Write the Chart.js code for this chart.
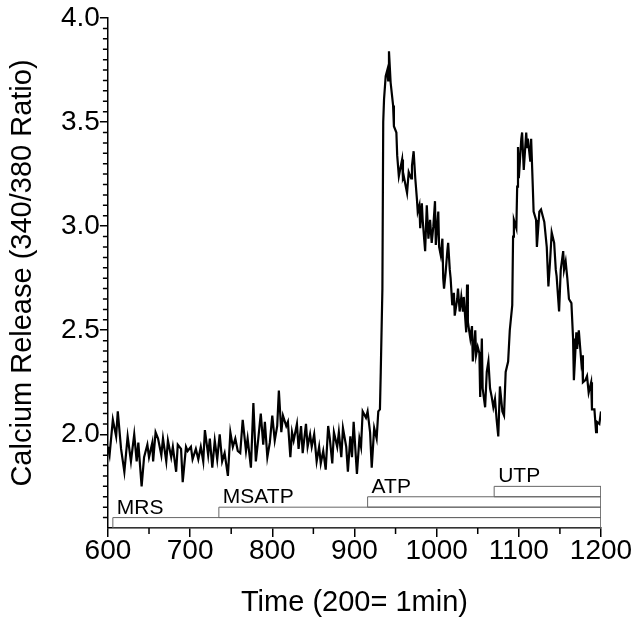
<!DOCTYPE html>
<html>
<head>
<meta charset="utf-8">
<script src="https://cdn.jsdelivr.net/npm/chart.js@4.4.0/dist/chart.umd.min.js"></script>
<style>
html, body { margin: 0; padding: 0; background: #fff; }
#wrap { width: 640px; height: 623px; }
</style>
</head>
<body>
<div id="wrap"><canvas id="calciumGraph"></canvas></div>
<script>
// trace (time units, 340/380 ratio)
const traceTime = [
    600, 602, 606, 610, 612, 616, 620, 624, 628, 632, 635, 637, 641, 644, 648, 650, 654, 655, 658, 661,
    665, 667, 671, 673, 677, 679, 683, 685, 689, 691, 695, 697, 701, 703, 707, 710, 713, 716, 718, 722,
    724, 727, 730, 733, 736, 739, 742, 746, 749, 752, 755, 758, 761, 764, 768, 770, 774, 777, 780, 783,
    786, 789, 791, 794, 797, 800, 803, 806, 808, 811, 813, 817, 819, 822, 824, 826, 830, 832, 835, 837,
    841, 843, 846, 848, 851, 854, 857, 859, 862, 865, 868, 870, 873, 875, 879, 881, 884, 886, 890, 892,
    895, 897, 899, 903, 906, 908, 910, 914, 916, 919, 921, 924, 927, 929, 931, 932, 934, 935, 936, 938,
    940, 941, 942, 944, 947, 948, 951, 952, 954, 955, 958, 959, 960, 963, 964, 966, 969, 970, 972, 974,
    976, 977, 979, 980, 982, 983, 986, 988, 990, 992, 994, 996, 998, 999, 1002, 1003, 1005, 1007, 1008, 1009,
    1011, 1013, 1014, 1016, 1017, 1019, 1021, 1022, 1025, 1026, 1028, 1030, 1032, 1033, 1036, 1037, 1038, 1041, 1043, 1044,
    1047, 1048, 1050, 1052, 1053, 1055, 1056, 1059, 1061, 1063, 1065, 1067, 1069, 1071, 1073, 1075, 1077, 1080, 1082, 1084,
    1087, 1089, 1092, 1093, 1094, 1097, 1098, 1099, 1100, 1103, 1104, 1106, 1109, 1110, 1111, 1114, 1115, 1117, 1118, 1121,
    1122, 1125, 1127, 1129, 1131, 1134, 1136, 1138, 1140, 1143, 1145, 1146, 1149, 1151, 1154, 1155, 1157, 1159, 1161, 1164,
    1166, 1167, 1170, 1171, 1173, 1176, 1177, 1178, 1181, 1183, 1185, 1188, 1189, 1192, 1194, 1195, 1198, 1200
];
const traceRatio = [
    1.94, 1.90, 2.07, 1.99, 2.11, 1.93, 1.82, 1.99, 1.87, 2.00, 1.87, 1.96, 1.75, 1.89, 1.95, 1.89, 1.96, 1.87, 2.01, 1.98,
    1.90, 1.98, 1.87, 1.97, 1.89, 1.94, 1.82, 1.95, 1.93, 1.77, 1.94, 1.92, 1.94, 1.88, 1.93, 1.88, 1.94, 1.87, 2.02, 1.90,
    1.98, 1.84, 1.97, 1.88, 2.00, 1.87, 1.91, 1.80, 2.01, 1.94, 1.98, 1.92, 1.91, 2.07, 1.92, 1.98, 1.84, 2.15, 1.87, 1.98,
    2.10, 1.95, 2.06, 1.89, 1.96, 2.09, 1.97, 2.04, 2.21, 2.01, 2.09, 2.04, 2.06, 1.89, 2.01, 1.97, 2.05, 1.93, 2.04, 1.91,
    2.05, 1.94, 2.00, 1.94, 2.00, 1.87, 1.94, 1.86, 1.92, 1.83, 2.04, 1.98, 1.86, 2.01, 1.94, 2.01, 1.89, 2.03, 1.94, 1.82,
    1.99, 1.89, 2.06, 1.81, 1.98, 1.94, 2.11, 2.08, 2.11, 2.01, 1.84, 2.03, 1.98, 2.11, 2.12, 2.30, 2.70, 3.50, 3.61, 3.72,
    3.75, 3.70, 3.84, 3.69, 3.58, 3.48, 3.45, 3.34, 3.24, 3.26, 3.32, 3.23, 3.24, 3.18, 3.16, 3.26, 3.23, 3.29, 3.36, 3.23,
    3.13, 3.07, 3.10, 2.99, 3.11, 3.03, 2.88, 3.10, 2.94, 3.03, 2.92, 3.00, 3.12, 2.91, 3.07, 2.90, 2.86, 2.94, 2.75, 2.70,
    2.78, 2.88, 2.92, 2.79, 2.75, 2.62, 2.68, 2.57, 2.65, 2.70, 2.59, 2.66, 2.59, 2.66, 2.49, 2.72, 2.54, 2.46, 2.52, 2.35,
    2.50, 2.38, 2.42, 2.39, 2.18, 2.46, 2.22, 2.13, 2.30, 2.35, 2.22, 2.18, 2.13, 2.17, 2.07, 1.99, 2.23, 2.11, 2.09, 2.30,
    2.35, 2.50, 2.62, 2.95, 3.03, 2.99, 3.19, 3.38, 3.23, 3.42, 3.45, 3.27, 3.45, 3.38, 3.42, 3.31, 3.42, 3.19, 3.07, 3.03,
    2.90, 3.07, 3.08, 3.05, 3.02, 2.90, 2.71, 2.83, 2.97, 2.92, 2.79, 2.76, 2.59, 2.79, 2.88, 2.79, 2.83, 2.75, 2.65, 2.63,
    2.46, 2.26, 2.49, 2.41, 2.50, 2.35, 2.38, 2.25, 2.26, 2.28, 2.20, 2.25, 2.12, 2.12, 2.01, 2.06, 2.05, 2.11
];

// drug application bars
const drugNames = ['MRS', 'MSATP', 'ATP', 'UTP'];
const drugStart = [606, 735, 916, 1070];
const drugLevel = [1.60, 1.65, 1.70, 1.75];
const drugEnd = 1200;

const xTicks = [600, 700, 800, 900, 1000, 1100, 1200];
const yTicks = [2.0, 2.5, 3.0, 3.5, 4.0];
const yMin = 1.55;
const yMax = 4.0;

const fontFamily = '"Liberation Sans", Arial, sans-serif';

document.addEventListener('DOMContentLoaded', () => {
    const datasets = [];

    // one closed box per drug, from its level down to the box below it
    drugNames.forEach((name, i) => {
        const lo = i === 0 ? yMin : drugLevel[i - 1];
        const hi = drugLevel[i];
        datasets.push({
            label: name,
            data: [
                { x: drugStart[i], y: lo },
                { x: drugStart[i], y: hi },
                { x: drugEnd, y: hi },
                { x: drugEnd, y: lo },
                { x: drugStart[i], y: lo }
            ],
            borderColor: '#666',
            borderWidth: 1,
            pointRadius: 0,
            fill: false,
            tension: 0
        });
    });

    datasets.push({
        label: 'Ratio',
        data: traceTime.map((t, i) => ({ x: t, y: traceRatio[i] })),
        borderColor: '#000',
        borderWidth: 2.2,
        pointRadius: 0,
        fill: false,
        tension: 0
    });

    // small ticks between the labelled ones
    const minorTicks = {
        id: 'minorTicks',
        afterDatasetsDraw(chart) {
            const area = chart.chartArea;
            const x = chart.scales.x;
            const y = chart.scales.y;
            const c = chart.ctx;
            c.save();
            c.strokeStyle = '#000';
            c.lineWidth = 1.5;
            c.beginPath();
            for (let k = 32; k < 80; k++) {
                if (k % 10 === 0) continue;
                const py = y.getPixelForValue(k * 0.05);
                c.moveTo(area.left - 5, py);
                c.lineTo(area.left, py);
            }
            for (let v = 650; v < 1200; v += 100) {
                const px = x.getPixelForValue(v);
                c.moveTo(px, area.bottom);
                c.lineTo(px, area.bottom + 6);
            }
            c.stroke();
            c.restore();
        }
    };

    const drugLabels = {
        id: 'drugLabels',
        afterDatasetsDraw(chart) {
            const { ctx, scales: { x, y } } = chart;
            ctx.save();
            ctx.fillStyle = '#000';
            ctx.font = '21px ' + fontFamily;
            ctx.textBaseline = 'alphabetic';
            drugNames.forEach((name, i) => {
                ctx.fillText(name, x.getPixelForValue(drugStart[i]) + 4, y.getPixelForValue(drugLevel[i]) - 4);
            });
            ctx.restore();
        }
    };

    const ctx = document.getElementById('calciumGraph').getContext('2d');
    new Chart(ctx, {
        type: 'line',
        data: { datasets: datasets },
        options: {
            responsive: true,
            maintainAspectRatio: false,
            animation: false,
            layout: { padding: { left: 0, right: 39, top: 18, bottom: 0 } },
            plugins: {
                legend: { display: false },
                tooltip: { enabled: false }
            },
            scales: {
                x: {
                    type: 'linear',
                    min: 600,
                    max: 1200,
                    afterBuildTicks: (scale) => { scale.ticks = xTicks.map(v => ({ value: v })); },
                    grid: { display: true, drawOnChartArea: false, drawTicks: true, tickLength: 9, color: '#000', lineWidth: 1.5 },
                    border: { display: true, color: '#000', width: 1.5 },
                    ticks: {
                        color: '#000',
                        padding: 0,
                        autoSkip: false,
                        maxRotation: 0,
                        callback: (v) => String(v),
                        font: { family: fontFamily, size: 28, lineHeight: 1 }
                    },
                    title: {
                        display: true,
                        text: 'Time (200= 1min)',
                        color: '#000',
                        font: { family: fontFamily, size: 29, lineHeight: 1 },
                        padding: { top: 23, bottom: 6 }
                    }
                },
                y: {
                    min: yMin,
                    max: yMax,
                    afterBuildTicks: (scale) => { scale.ticks = yTicks.map(v => ({ value: v })); },
                    grid: { display: true, drawOnChartArea: false, drawTicks: true, tickLength: 8, color: '#000', lineWidth: 1.5 },
                    border: { display: true, color: '#000', width: 1.5 },
                    ticks: {
                        color: '#000',
                        padding: 0,
                        callback: (v) => Number(v).toFixed(1),
                        font: { family: fontFamily, size: 28, lineHeight: 1 }
                    },
                    title: {
                        display: true,
                        text: 'Calcium Release (340/380 Ratio)',
                        color: '#000',
                        font: { family: fontFamily, size: 29, lineHeight: 1 },
                        padding: { top: 8, bottom: 24 }
                    }
                }
            }
        },
        plugins: [minorTicks, drugLabels]
    });
});
</script>
</body>
</html>
